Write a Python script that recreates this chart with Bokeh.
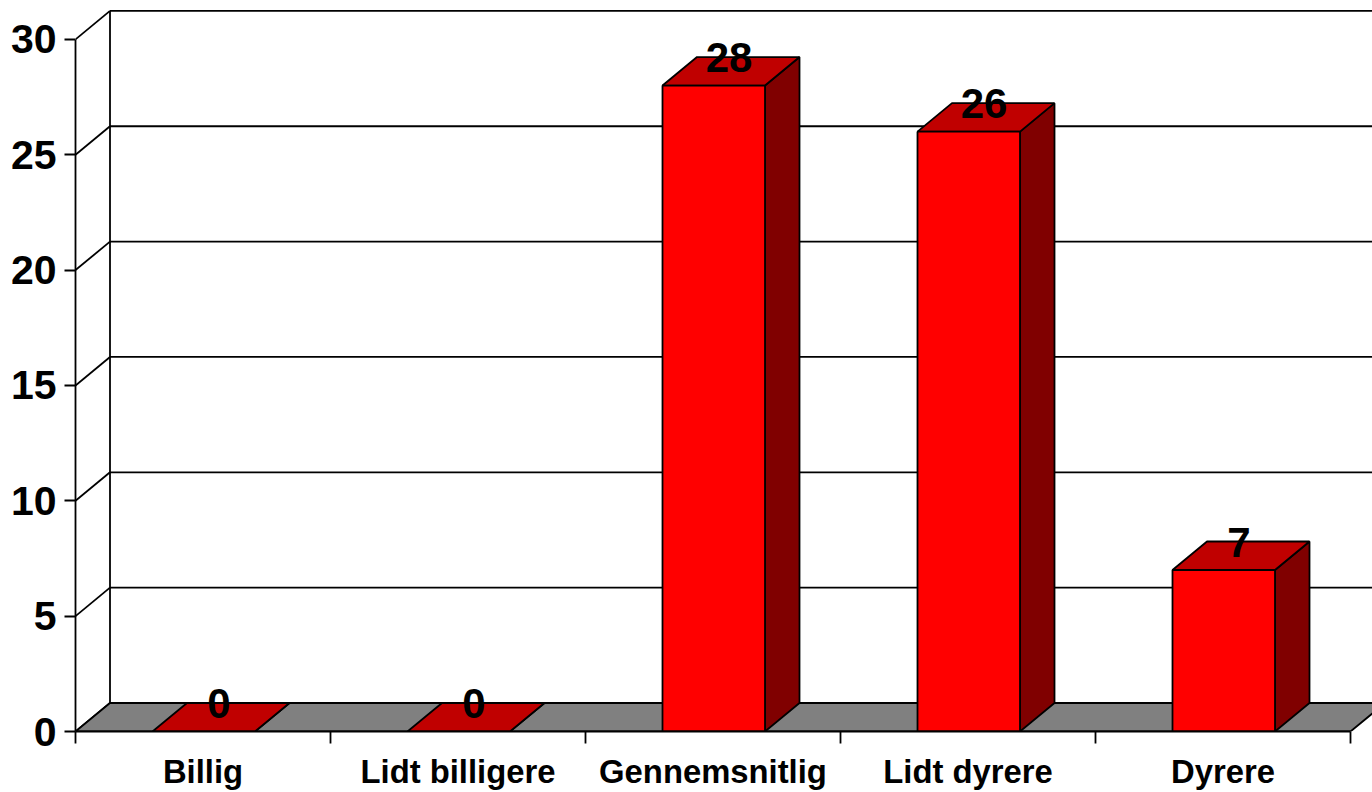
from bokeh.plotting import figure
from bokeh.embed import file_html
from bokeh.resources import INLINE
from bokeh.models import FixedTicker, LinearAxis, Range1d
from bokeh.core.properties import value

categories = ["Billig", "Lidt billigere", "Gennemsnitlig", "Lidt dyrere", "Dyrere"]
values = [0, 0, 28, 26, 7]
y_ticks = [0, 5, 10, 15, 20, 25, 30]

PX_X = 255.0      # pixels per category
PX_Y = 23.07      # pixels per unit
DX = 34.5 / PX_X  # depth of the 3D box, data units
DY = 28.5 / PX_Y
BAR_L = 77.0 / PX_X
BAR_W = 102.5 / PX_X
LW = 1.8

FONT = "Liberation Sans"
WIDTH, HEIGHT = 1372, 792
LEFT, BOTTOM = 75, 61

p = figure(width=WIDTH, height=HEIGHT, output_backend="svg", toolbar_location=None,
           x_range=Range1d(0, (WIDTH - LEFT) / PX_X),
           y_range=Range1d(0, (HEIGHT - BOTTOM) / PX_Y),
           min_border_left=LEFT, min_border_bottom=BOTTOM,
           min_border_top=0, min_border_right=0,
           x_axis_type=None, y_axis_type=None, outline_line_color=None,
           background_fill_color="white", border_fill_color="white")
p.grid.visible = False

n = len(categories)
x_end = p.x_range.end + 1

# back wall
p.segment([DX], [DY], [DX], [y_ticks[-1] + DY], line_color="black", line_width=LW)
# grid on side and back wall
p.segment([0] * len(y_ticks), y_ticks, [DX] * len(y_ticks), [v + DY for v in y_ticks],
          line_color="black", line_width=LW)
p.segment([DX] * len(y_ticks), [v + DY for v in y_ticks], [x_end] * len(y_ticks),
          [v + DY for v in y_ticks], line_color="black", line_width=LW)
# floor
p.patch([0, n, n + DX, x_end, x_end, DX], [0, 0, DY, DY, DY, DY],
        fill_color="#808080", line_color="black", line_width=LW)

# bars
for i, v in enumerate(values):
    l, r = i + BAR_L, i + BAR_L + BAR_W
    p.patch([r, r + DX, r + DX, r], [0, DY, v + DY, v],
            fill_color="#800000", line_color="black", line_width=LW)
    p.patch([l, r, r + DX, l + DX], [v, v, v + DY, v + DY],
            fill_color="#C00000", line_color="black", line_width=LW)
    if v > 0:
        p.quad(left=[l], right=[r], bottom=[0], top=[v],
               fill_color="#FF0000", line_color="black", line_width=LW)

# value labels
p.text([i + BAR_L + BAR_W / 2 + DX / 2 - 2 / PX_X for i in range(n)], values,
       text=[str(v) for v in values], text_font=value(FONT), text_font_style="bold",
       text_font_size="42px", text_color="black", text_align="center",
       text_baseline="alphabetic", y_offset=-28)

# axes
yax = LinearAxis(ticker=FixedTicker(ticks=y_ticks), bounds=(0, y_ticks[-1]))
yax.axis_line_color = "black"
yax.axis_line_width = LW
yax.major_tick_line_color = "black"
yax.major_tick_line_width = LW
yax.major_tick_out = 11
yax.major_tick_in = 0
yax.minor_tick_line_color = None
yax.major_label_standoff = 8
yax.major_label_text_font = FONT
yax.major_label_text_font_style = "bold"
yax.major_label_text_font_size = "41px"
yax.major_label_text_color = "black"
p.add_layout(yax, "left")

centers = [i + 0.5 for i in range(n)]
xax = LinearAxis(ticker=FixedTicker(ticks=centers, minor_ticks=list(range(n + 1))),
                 bounds=(0, n))
xax.major_label_overrides = {c: t for c, t in zip(centers, categories)}
xax.axis_line_color = "black"
xax.axis_line_width = LW
xax.major_tick_line_color = None
xax.minor_tick_line_color = "black"
xax.minor_tick_line_width = LW
xax.minor_tick_out = 12
xax.minor_tick_in = 0
xax.major_label_standoff = 9
xax.major_label_text_font = FONT
xax.major_label_text_font_style = "bold"
xax.major_label_text_font_size = "32.8px"
xax.major_label_text_baseline = "hanging"
xax.major_label_text_color = "black"
p.add_layout(xax, "below")

open("out.html", "w").write(file_html(p, INLINE))
